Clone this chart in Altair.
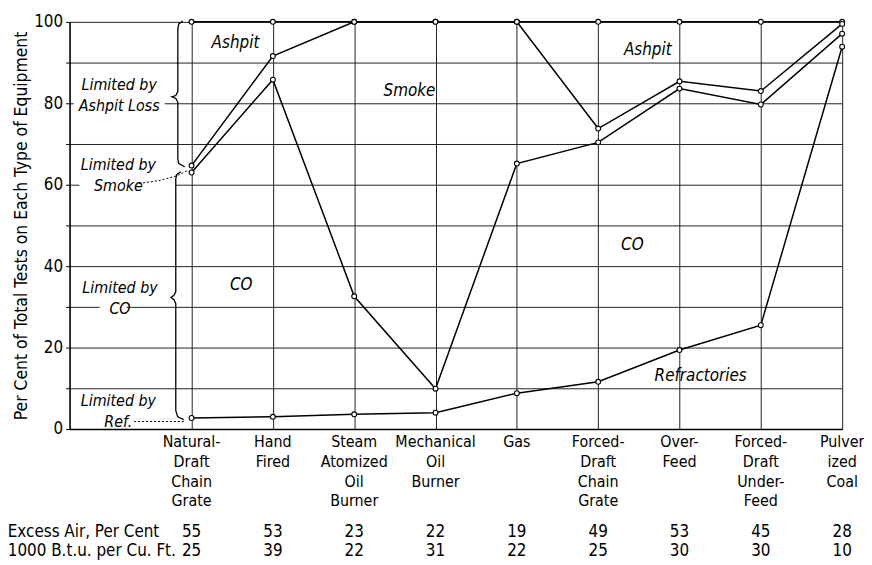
import altair as alt
import pandas as pd

FONT = "Liberation Sans Narrow, DejaVu Sans Condensed, Roboto Condensed, Liberation Sans, sans-serif"

# ---------------- data ----------------
categories = [
    "Natural-\nDraft\nChain\nGrate",
    "Hand\nFired",
    "Steam\nAtomized\nOil\nBurner",
    "Mechanical\nOil\nBurner",
    "Gas",
    "Forced-\nDraft\nChain\nGrate",
    "Over-\nFeed",
    "Forced-\nDraft\nUnder-\nFeed",
    "Pulver\nized\nCoal",
]
positions = [0, 1, 2, 3, 4, 5, 6, 7, 8]

total_top = [100, 100, 100, 100, 100, 100, 100, 100, 100]
smoke_top = [64.7, 91.6, 100, 100, 100, 73.8, 85.4, 83.0, 99.5]
co_top = [63.0, 85.8, 32.6, 9.9, 65.2, 70.4, 83.6, 79.7, 97.1]
ref_top = [2.7, 3.0, 3.6, 4.0, 8.8, 11.6, 19.4, 25.5, 93.9]

excess_air = ["55", "53", "23", "22", "19", "49", "53", "45", "28"]
btu_per_cuft = ["25", "39", "22", "31", "22", "25", "30", "30", "10"]

row_titles = ["Excess Air, Per Cent", "1000 B.t.u. per Cu. Ft."]

y_grid = [0, 10, 20, 30, 40, 50, 60, 70, 80, 90, 100]
x_grid = [0, 1, 2, 3, 4, 5, 6, 7, 8]

# region labels inside the plot (x, y in data units)
region_text = ["Ashpit", "Smoke", "CO", "Ashpit", "CO", "Refractories"]
region_x = [0.54, 2.68, 0.61, 5.61, 5.42, 6.26]
region_y = [94.7, 82.9, 35.4, 93.1, 45.2, 13.1]

# side annotations
side_text = ["Limited by\nAshpit Loss", "Limited by\nSmoke", "Limited by\nCO", "Limited by\nRef."]
side_x = [-0.89, -0.90, -0.88, -0.90]
side_y = [84.4, 64.9, 34.5, 6.9]

# ---------------- tables ----------------
series_rows = []
for name, vals in [("total", total_top), ("smoke", smoke_top), ("co", co_top), ("ref", ref_top)]:
    for p, v in zip(positions, vals):
        series_rows.append({"x": p, "y": v, "series": name})
df = pd.DataFrame(series_rows)

df_cat = pd.DataFrame({"x": positions, "y": [0] * 9, "label": categories})
df_row1 = pd.DataFrame({"x": positions, "y": [-25.3] * 9, "label": excess_air})
df_row2 = pd.DataFrame({"x": positions, "y": [-29.9] * 9, "label": btu_per_cuft})
df_rowt = pd.DataFrame({"x": [-2.26, -2.26], "y": [-25.3, -29.9], "label": row_titles})
df_region = pd.DataFrame({"x": region_x, "y": region_y, "label": region_text})
df_side = pd.DataFrame({"x": side_x, "y": side_y, "label": side_text})

# braces (decorative), data units
brace_up_x = [-0.108, -0.157, -0.169, -0.169, -0.194, -0.242, -0.194, -0.169, -0.169, -0.157, -0.084]
brace_up_y = [100.2, 99.5, 98.3, 82.9, 81.9, 81.6, 81.2, 80.3, 66.4, 65.2, 64.4]
brace_lo_x = [-0.133, -0.182, -0.194, -0.194, -0.218, -0.255, -0.218, -0.194, -0.194, -0.170, -0.096]
brace_lo_y = [63.2, 62.5, 61.5, 33.7, 32.8, 32.3, 31.8, 30.8, 4.5, 3.0, 2.3]
braces = []
for g, xs, ys in [("up", brace_up_x, brace_up_y), ("lo", brace_lo_x, brace_lo_y)]:
    for i, (a, b) in enumerate(zip(xs, ys)):
        braces.append({"x": a, "y": b, "g": g, "o": i})
df_brace = pd.DataFrame(braces)

leaders = []
for g, xs, ys in [("smoke", [-0.645, -0.401, -0.181, -0.059], [60.3, 61.0, 62.2, 63.4]),
                  ("ref", [-0.706, -0.084], [1.83, 1.83])]:
    for i, (a, b) in enumerate(zip(xs, ys)):
        leaders.append({"x": a, "y": b, "g": g, "o": i})
df_lead = pd.DataFrame(leaders)

# white patches where the lettering interrupts grid lines
df_mask = pd.DataFrame({
    "x": [-1.45, -1.38, -1.13],
    "x2": [-0.33, -0.20, -0.80],
    "y": [77.3, 58.4, 28.6],
    "y2": [81.0, 61.6, 31.4],
})

# ---------------- encodings ----------------
X = alt.X("x:Q",
          scale=alt.Scale(domain=[-1.5, 8], nice=False, zero=False),
          axis=alt.Axis(values=x_grid, grid=True, labels=False, ticks=False,
                        domain=True, domainColor="black", domainWidth=1.6,
                        gridColor="#222", gridWidth=1, gridOpacity=1, title=None))
Y = alt.Y("y:Q",
          scale=alt.Scale(domain=[0, 100], nice=False, zero=False),
          axis=alt.Axis(values=y_grid,
                        labelExpr="datum.value % 20 === 0 ? datum.label : ''",
                        grid=True, gridColor="#222", gridWidth=1, gridOpacity=1,
                        domainColor="black", domainWidth=1.6,
                        tickColor="black", tickSize=4,
                        labelFont=FONT, labelFontSize=17, labelColor="black", labelPadding=3,
                        title="Per Cent of Total Tests on Each Type of Equipment",
                        titleFont=FONT, titleFontSize=17.5, titleFontWeight="normal",
                        titleColor="black", titlePadding=3))

base_lines = alt.Chart(df).mark_line(color="black", strokeWidth=1.5).encode(
    x=X, y=Y, detail="series:N", order="x:Q")
pts = alt.Chart(df).mark_circle(fill="white", stroke="black", strokeWidth=1.1,
                                size=24, opacity=1).encode(x=X, y=Y)

mask = alt.Chart(df_mask).mark_rect(color="white").encode(x=X, x2="x2:Q", y=Y, y2="y2:Q")

brace = alt.Chart(df_brace).mark_line(color="black", strokeWidth=1.3).encode(
    x=X, y=Y, detail="g:N", order="o:Q")
lead = alt.Chart(df_lead).mark_line(color="black", strokeWidth=1, strokeDash=[2, 2]).encode(
    x=X, y=Y, detail="g:N", order="o:Q")

cat_text = alt.Chart(df_cat).mark_text(font=FONT, fontSize=16, lineHeight=20,
                                       lineBreak="\n", baseline="top", align="center",
                                       dy=5, color="black").encode(x=X, y=Y, text="label:N")
row1 = alt.Chart(df_row1).mark_text(font=FONT, fontSize=17, baseline="middle",
                                    align="center", color="black").encode(x=X, y=Y, text="label:N")
row2 = alt.Chart(df_row2).mark_text(font=FONT, fontSize=17, baseline="middle",
                                    align="center", color="black").encode(x=X, y=Y, text="label:N")
rowt = alt.Chart(df_rowt).mark_text(font=FONT, fontSize=17, baseline="middle",
                                    align="left", color="black").encode(x=X, y=Y, text="label:N")
region = alt.Chart(df_region).mark_text(font=FONT, fontSize=17, fontStyle="italic",
                                        baseline="middle", align="center",
                                        color="black").encode(x=X, y=Y, text="label:N")
side = alt.Chart(df_side).mark_text(font=FONT, fontSize=16, fontStyle="italic",
                                    lineBreak="\n", lineHeight=21, baseline="middle",
                                    align="center", color="black").encode(x=X, y=Y, text="label:N")

chart = alt.layer(
    base_lines, mask, brace, lead, pts, cat_text, row1, row2, rowt, region, side
).properties(
    width=778, height=410,
    autosize=alt.AutoSizeParams(type="none"),
    padding={"left": 62, "top": 12, "right": 22, "bottom": 134},
    background="white",
).configure_view(stroke=None)

chart.save("out.html", embed_options={"renderer": "svg", "actions": False})
